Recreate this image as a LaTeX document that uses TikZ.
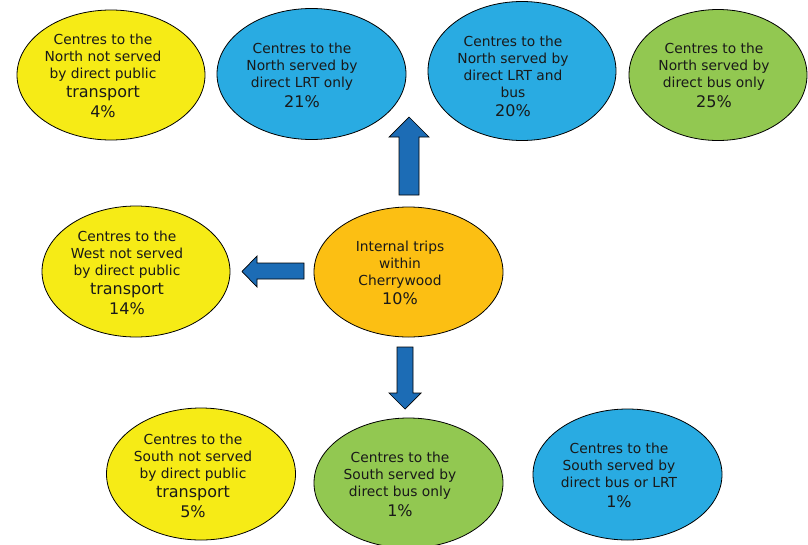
\documentclass[tikz,border=0pt]{standalone}
\usepackage{fontspec}
\setmainfont{DejaVu Sans}
\definecolor{cyel}{RGB}{246,235,22}
\definecolor{cblu}{RGB}{41,171,226}
\definecolor{cgrn}{RGB}{146,200,81}
\definecolor{corg}{RGB}{252,191,19}
\definecolor{carr}{RGB}{28,108,181}
\definecolor{ctxt}{RGB}{25,25,25}
\newcommand{\bigln}[1]{{\fontsize{16}{19}\selectfont #1}}
\tikzset{
  oval/.style={ellipse, draw=black, line width=0.8pt, inner sep=0pt, minimum width=189pt, minimum height=131pt},
  lbl/.style={align=center, text=ctxt, font=\fontsize{13.8}{17}\selectfont, inner sep=0pt},
  blockarrow/.style={fill=carr, draw=black, line width=0.7pt, line join=miter}
}
\usetikzlibrary{shapes.geometric}
\begin{document}
\begin{tikzpicture}[x=1pt,y=-1pt]
\useasboundingbox (0,0) rectangle (808,544);
% top row
\node[oval, fill=cyel, minimum width=188pt, minimum height=130pt] (n1) at (111,75) {};
\node[lbl] (t1) at (103,76) {Centres to the\\North not served\\by direct public\\[2pt]\bigln{transport}\\[3pt]\bigln{4\%}};
\node[oval, fill=cblu] (n2) at (311.5,74) {};
\node[lbl] (t2) at (302,75.5) {Centres to the\\North served by\\direct LRT only\\[3pt]\bigln{21\%}};
\node[oval, fill=cblu, minimum width=188pt, minimum height=139pt] (n3) at (522,71) {};
\node[lbl] (t3) at (513,76) {Centres to the\\North served by\\direct LRT and\\bus\\[2pt]\bigln{20\%}};
\node[oval, fill=cgrn, minimum width=178pt] (n4) at (718,75) {};
\node[lbl] (t4) at (714,75.5) {Centres to the\\North served by\\direct bus only\\[3pt]\bigln{25\%}};
% middle row
\node[oval, fill=cyel, minimum width=188pt] (n5) at (136,271.5) {};
\node[lbl] (t5) at (127,273) {Centres to the\\West not served\\by direct public\\[2pt]\bigln{transport}\\[3pt]\bigln{14\%}};
\node[oval, fill=corg, minimum height=130pt] (n6) at (408.5,272) {};
\node[lbl] (t6) at (400,272.5) {Internal trips\\within\\Cherrywood\\[2pt]\bigln{10\%}};
% bottom row
\node[oval, fill=cyel, minimum height=132pt] (n7) at (201,474) {};
\node[lbl] (t7) at (193,475.5) {Centres to the\\South not served\\by direct public\\[2pt]\bigln{transport}\\[3pt]\bigln{5\%}};
\node[oval, fill=cgrn, minimum height=130pt] (n8) at (408.5,483) {};
\node[lbl] (t8) at (400,484) {Centres to the\\South served by\\direct bus only\\[3pt]\bigln{1\%}};
\node[oval, fill=cblu] (n9) at (627.5,474.5) {};
\node[lbl] (t9) at (619,475.5) {Centres to the\\South served by\\direct bus or LRT\\[3pt]\bigln{1\%}};
% block arrows
\coordinate (aup) at (409,117);
\draw[blockarrow] (399,195) -- (399,137) -- (389,137) -- (aup) -- (429,137) -- (419,137) -- (419,195) -- cycle;
\coordinate (aleft) at (242,271.5);
\draw[blockarrow] (304,263) -- (257,263) -- (257,256) -- (aleft) -- (257,287) -- (257,279) -- (304,279) -- cycle;
\coordinate (adown) at (405,409);
\draw[blockarrow] (397,347) -- (397,393) -- (389,393) -- (adown) -- (421,393) -- (413,393) -- (413,347) -- cycle;
\end{tikzpicture}
\end{document}
